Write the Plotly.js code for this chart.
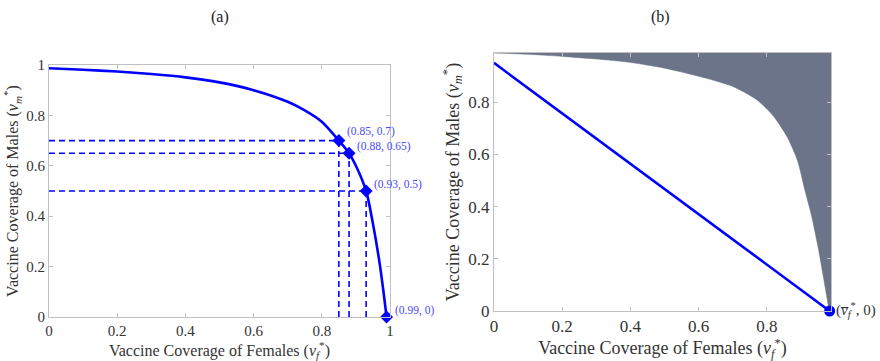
<!DOCTYPE html>
<html><head><meta charset="utf-8">
<script src="https://cdn.plot.ly/plotly-3.0.1.min.js"></script>
<style>html,body{margin:0;padding:0;background:#fff}#chart{width:880px;height:361px}</style>
</head><body><div id="chart"></div>
<script>
// Panel (a): threshold curve
const curveX = [0, 0.1, 0.2, 0.3, 0.4, 0.5, 0.6, 0.7, 0.75, 0.8, 0.85, 0.88, 0.9, 0.93, 0.95, 0.97, 0.98, 0.99];
const curveY = [0.987, 0.981, 0.974, 0.964, 0.951, 0.931, 0.90, 0.854, 0.82, 0.775, 0.70, 0.65, 0.60, 0.50, 0.37, 0.21, 0.11, 0];
// Highlighted points
const ptX = [0.85, 0.88, 0.93, 0.99];
const ptY = [0.7, 0.65, 0.5, 0];
const ptLabels = ['(0.85, 0.7)', '(0.88, 0.65)', '(0.93, 0.5)', '(0.99, 0)'];
// Panel (b): shaded region boundary
const bX = [0, 0.1, 0.2, 0.3, 0.4, 0.5, 0.6, 0.7, 0.77, 0.82, 0.86, 0.89, 0.91, 0.93, 0.95, 0.965, 0.975, 0.984, 0.988];
const bY = [0.988, 0.983, 0.975, 0.965, 0.952, 0.93, 0.899, 0.86, 0.809, 0.745, 0.665, 0.575, 0.47, 0.37, 0.245, 0.135, 0.06, 0, 0];
const bMax = 0.988;
// Panel (b): line
const lineX = [0, 0.984];
const lineY = [0.95, 0];
const ticksA = [0, 0.2, 0.4, 0.6, 0.8, 1];
const ticksB = [0, 0.2, 0.4, 0.6, 0.8];

const F = 'Liberation Serif, Times New Roman, serif';
const BLUE = '#0000ff';
const LBL = '#4a4aff';
const SHADE = '#6b7488';

const traces = [];
// dashed guides
for (let i = 0; i < ptX.length - 1; i++) {
  traces.push({x: [0, ptX[i]], y: [ptY[i], ptY[i]], mode: 'lines', line: {color: BLUE, width: 1.6, dash: '6px,4px'}, xaxis: 'x', yaxis: 'y', hoverinfo: 'skip'});
  traces.push({x: [ptX[i], ptX[i]], y: [0, ptY[i]], mode: 'lines', line: {color: BLUE, width: 1.6, dash: '6px,4px'}, xaxis: 'x', yaxis: 'y', hoverinfo: 'skip'});
}
traces.push({x: curveX, y: curveY, mode: 'lines', line: {color: BLUE, width: 2.6, shape: 'spline', smoothing: 0.8}, xaxis: 'x', yaxis: 'y'});
traces.push({x: ptX, y: ptY, mode: 'markers', marker: {color: BLUE, size: 10, symbol: 'diamond'}, xaxis: 'x', yaxis: 'y', cliponaxis: false});

// shaded region in (b): between the top edge of the axes and the boundary curve
traces.push({x: bX, y: bX.map(() => bMax), mode: 'lines', line: {width: 0, color: SHADE}, xaxis: 'x2', yaxis: 'y2', hoverinfo: 'skip'});
traces.push({x: bX, y: bY, mode: 'lines', fill: 'tonexty', fillcolor: SHADE, line: {width: 0.5, color: SHADE, shape: 'spline', smoothing: 0.7}, xaxis: 'x2', yaxis: 'y2', hoverinfo: 'skip'});
traces.push({x: lineX, y: lineY, mode: 'lines', line: {color: BLUE, width: 2.6}, xaxis: 'x2', yaxis: 'y2'});
traces.push({x: [lineX[1]], y: [lineY[1]], mode: 'markers', marker: {color: BLUE, size: 11}, xaxis: 'x2', yaxis: 'y2', cliponaxis: false});

const axBase = {showgrid: false, zeroline: false, showline: true, mirror: 'allticks', linecolor: '#c0c0c0', linewidth: 1,
  ticks: 'inside', ticklen: 4, tickcolor: '#c0c0c0', automargin: false};

const annotations = ptX.map((x, i) => ({x: x, y: ptY[i], xref: 'x', yref: 'y', text: ptLabels[i], showarrow: false,
  xanchor: 'left', yanchor: 'middle', xshift: 6, yshift: i === 0 ? 9 : 7, font: {family: F, size: 11.5, color: LBL}}));
annotations.push({x: lineX[1], y: lineY[1], xref: 'x2', yref: 'y2', text: '(<i>v̅</i><sub><i>f</i></sub><sup>*</sup>, 0)', showarrow: false,
  xanchor: 'left', yanchor: 'middle', xshift: 4, yshift: 1, font: {family: F, size: 15, color: '#333'}});

const tfA = {family: F, size: 15, color: '#333'};
const tfB = {family: F, size: 17, color: '#333'};
const layout = {
  width: 880, height: 361,
  margin: {l: 0, r: 0, t: 0, b: 0},
  paper_bgcolor: '#fff', plot_bgcolor: '#fff',
  showlegend: false,
  font: {family: F, color: '#333'},
  xaxis: Object.assign({}, axBase, {domain: [49/880, 390/880], range: [0, 1], tickvals: ticksA, ticktext: ticksA.map(String), anchor: 'y',
    tickfont: tfA,
    title: {text: 'Vaccine Coverage of Females (<i>v</i><sub><i>f</i></sub><sup>*</sup>)', font: {family: F, size: 16, color: '#333'}, standoff: 0}}),
  yaxis: Object.assign({}, axBase, {domain: [44/361, 296/361], range: [0, 1], tickvals: ticksA, ticktext: ticksA.map(String), anchor: 'x',
    tickfont: tfA,
    title: {text: 'Vaccine Coverage of Males (<i>v</i><sub><i>m</i></sub><sup>*</sup>)', font: {family: F, size: 16, color: '#333'}, standoff: 3}}),
  xaxis2: Object.assign({}, axBase, {domain: [494/880, 831/880], range: [0, bMax], tickvals: ticksB, ticktext: ticksB.map(String), anchor: 'y2',
    tickfont: tfB,
    title: {text: 'Vaccine Coverage of Females (<i>v</i><sub><i>f</i></sub><sup>*</sup>)', font: {family: F, size: 18, color: '#333'}, standoff: 2}}),
  yaxis2: Object.assign({}, axBase, {domain: [50/361, 308/361], range: [0, bMax], tickvals: ticksB, ticktext: ticksB.map(String), anchor: 'x2',
    tickfont: tfB,
    title: {text: 'Vaccine Coverage of Males (<i>v</i><sub><i>m</i></sub><sup>*</sup>)', font: {family: F, size: 18, color: '#333'}, standoff: 4}}),
  annotations: annotations.concat([
    {x: 220/880, y: 1 - 17/361, xref: 'paper', yref: 'paper', text: '(a)', showarrow: false, xanchor: 'center', yanchor: 'middle', font: {family: F, size: 16, color: '#222'}},
    {x: 660/880, y: 1 - 17/361, xref: 'paper', yref: 'paper', text: '(b)', showarrow: false, xanchor: 'center', yanchor: 'middle', font: {family: F, size: 16, color: '#222'}}
  ])
};
Plotly.newPlot('chart', traces, layout, {displayModeBar: false, staticPlot: true});
</script></body></html>
